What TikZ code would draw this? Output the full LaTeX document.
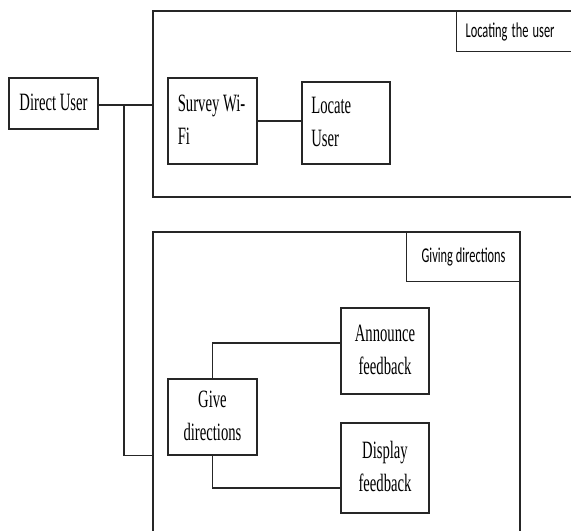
\documentclass[tikz,border=0pt]{standalone}
\usepackage{fontspec}
\usepackage{graphicx}
\setmainfont{Liberation Serif}
\newfontfamily\tagfont{Carlito}
\usetikzlibrary{calc}

% text in the source is drawn taller than wide
\newcommand{\tallbox}[2]{\scalebox{1}[1.7]{\begin{tabular}{@{}#1@{}}#2\end{tabular}}}

\tikzset{
  block/.style={draw=black!85, line width=0.9pt, inner sep=0pt, font=\fontsize{11}{14.6}\selectfont},
  frame/.style={draw=black!85, line width=0.9pt, inner sep=0pt},
  tag/.style={draw=black!85, line width=0.9pt, anchor=north west, inner sep=0pt, font=\tagfont\fontsize{9.3}{11}\selectfont},
  link/.style={draw=black!85, line width=0.9pt}
}

\begin{document}
\begin{tikzpicture}[x=0.75pt, y=-0.75pt]
    \useasboundingbox (0,0) rectangle (571,531);
    \fill[white] (0,0) rectangle (571,531);

    % Draw the two frames
    \node[frame, minimum width=335.25pt, minimum height=139.5pt] (locframe) at (376.5,104) {};
    \node[frame, minimum width=275.25pt, minimum height=246pt] (dirframe) at (336.5,396) {};

    % Frame titles
    \node[tag, minimum height=30pt, text width=94.5pt, align=left, inner xsep=6.75pt] (loctag) at (456,11) {\scalebox{1}[1.7]{Locating the user}};
    \node[tag, minimum width=85.5pt, minimum height=36.75pt] (dirtag) at (406,232) {\scalebox{1}[1.7]{Giving directions}};

    % Draw the boxes
    \node[block, minimum width=66.75pt, minimum height=38.25pt] (user) at (53.5,103.5) {\tallbox{c}{Direct User}};
    \node[block, minimum width=66.75pt, minimum height=64.5pt] (survey) at (212.5,121) {\tallbox{p{52pt}}{Survey Wi-\\Fi}};
    \node[block, minimum width=66pt, minimum height=61.5pt] (locate) at (346,123) {\tallbox{p{52pt}}{Locate\\User}};
    \node[block, minimum width=66.75pt, minimum height=57pt] (give) at (212.5,417) {\tallbox{c}{Give\\directions}};
    \node[block, minimum width=66pt, minimum height=64.5pt] (announce) at (385,351) {\tallbox{c}{Announce\\feedback}};
    \node[block, minimum width=66pt, minimum height=67.5pt] (display) at (385,468) {\tallbox{c}{Display\\feedback}};

    % Draw the connectors
    \coordinate (branch) at (124,105);
    \draw[link] (user.east |- branch) -- (branch) -- (branch -| locframe.west);
    \draw[link] (branch) |- (dirframe.west |- give.south);
    \draw[link] (survey.east) -- (survey.east -| locate.west);
    \draw[link] (give.north) |- ($(announce.west)+(0,-8)$);
    \draw[link] (give.south) |- ($(display.west)+(0,20)$);
\end{tikzpicture}
\end{document}
